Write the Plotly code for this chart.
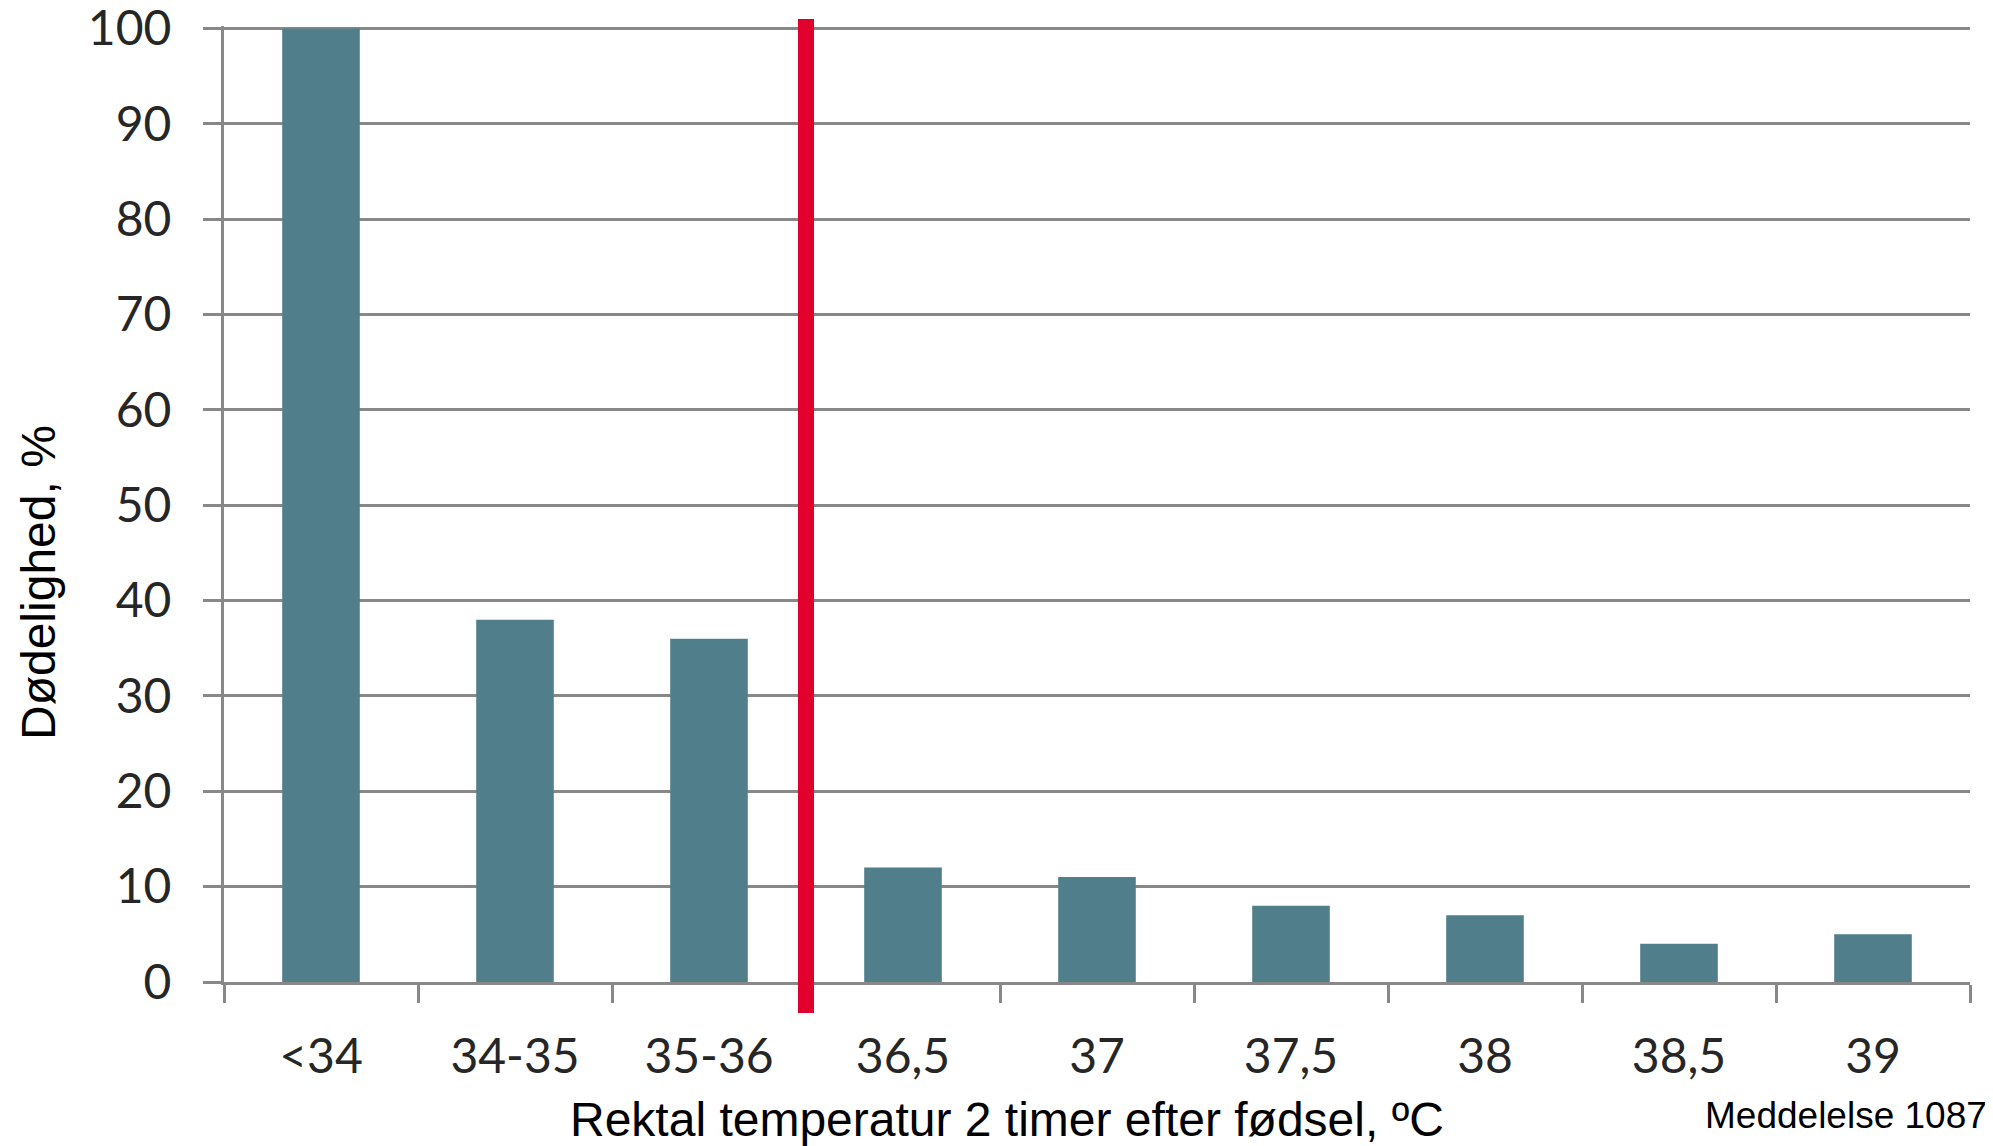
import plotly.graph_objects as go

categories = ["<34", "34-35", "35-36", "36,5", "37", "37,5", "38", "38,5", "39"]
mortality = [100, 38, 36, 12, 11, 8, 7, 4, 5]
y_ticks = [0, 10, 20, 30, 40, 50, 60, 70, 80, 90, 100]
divider_after = "35-36"  # red divider placed after this category

# the page body adds an 8px margin; lay out in page pixels and shift
PAGE_W, PAGE_H, BODY = 1993, 1146, 8
W, H = PAGE_W - BODY, PAGE_H - BODY
M_L, M_R, M_T, M_B = 224 - BODY, W - (1970 - BODY), 18, H - (982 - BODY)
plot_w = W - M_L - M_R
plot_h = H - M_T - M_B


def px_x(page_x):
    return (page_x - BODY - M_L) / plot_w


def px_y(page_y):
    return (H - M_B - (page_y - BODY)) / plot_h


GRAY = "#888888"
BAR = "#507F8B"
RED = "#E0002B"

fig = go.Figure()
fig.add_trace(go.Bar(
    x=categories, y=mortality, marker=dict(color=BAR, line=dict(width=0)),
    width=0.4, hoverinfo="x+y"
))

div_x = categories.index(divider_after) + 0.5
fig.add_shape(type="line", xref="x", yref="paper",
              x0=div_x, x1=div_x, y0=px_y(1013), y1=px_y(19),
              line=dict(color=RED, width=16), layer="above")

fig.update_layout(
    width=W, height=H,
    margin=dict(l=M_L, r=M_R, t=M_T, b=M_B, autoexpand=False),
    plot_bgcolor="white", paper_bgcolor="white",
    showlegend=False,
    bargap=0.6,
    xaxis=dict(
        type="category", range=[-0.5, len(categories) - 0.5], automargin=False,
        showgrid=False, showline=True, linecolor=GRAY, linewidth=3,
        ticks="outside", tickson="boundaries", ticklen=18, tickwidth=3, tickcolor=GRAY,
        tickfont=dict(family="Lato", size=48, color="#262626"),
        ticklabelstandoff=30, ticklabeloverflow="allow",
    ),
    yaxis=dict(
        range=[0, 100.25], tickvals=y_ticks, automargin=False,
        showgrid=True, gridcolor=GRAY, gridwidth=3,
        showline=True, linecolor=GRAY, linewidth=3, zeroline=False,
        ticks="outside", ticklen=18, tickwidth=3, tickcolor=GRAY,
        tickfont=dict(family="Lato", size=48, color="#262626"),
        ticklabelstandoff=22, ticklabeloverflow="allow",
    ),
    annotations=[
        dict(text="Rektal temperatur 2 timer efter fødsel, ºC", xref="paper", yref="paper",
             x=px_x(1007), y=px_y(1119),
             xanchor="center", yanchor="middle", showarrow=False,
             font=dict(family="Liberation Sans", size=48, color="black")),
        dict(text="Meddelelse 1087", xref="paper", yref="paper",
             x=px_x(1989), y=px_y(1115),
             xanchor="right", yanchor="middle", showarrow=False,
             font=dict(family="Liberation Sans", size=37, color="black")),
        dict(text="Dødelighed, %", xref="paper", yref="paper",
             x=px_x(38), y=px_y(583),
             xanchor="center", yanchor="middle", showarrow=False, textangle=-90,
             font=dict(family="Liberation Sans", size=48, color="black")),
    ],
)

fig.write_html("out.html")
